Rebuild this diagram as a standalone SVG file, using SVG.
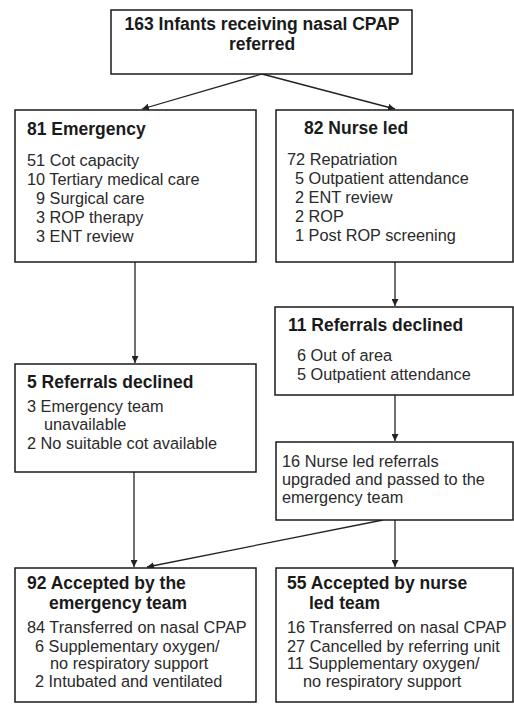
<svg xmlns="http://www.w3.org/2000/svg" width="514" height="712" viewBox="0 0 514 712">
<style>
.box{fill:#fff;stroke:#1a1a1a;stroke-width:1.5}
.h{font-family:"Liberation Sans",Arial,sans-serif;font-weight:bold;font-size:17.5px;fill:#1a1a1a}
.t{font-family:"Liberation Sans",Arial,sans-serif;font-size:16.3px;fill:#2a2a2a}
.c{stroke:#222;stroke-width:1.3;fill:none;marker-end:url(#ah)}
</style>
<defs>
<marker id="ah" viewBox="0 0 10 10" refX="10" refY="5" markerWidth="7" markerHeight="7" orient="auto" markerUnits="userSpaceOnUse">
<path d="M0,0 L10,5 L0,10 z" fill="#222"/>
</marker>
</defs>
<rect width="514" height="712" fill="#fff"/>
<g id="connectors">
<line class="c" x1="262" y1="74" x2="142" y2="109"/>
<line class="c" x1="262" y1="74" x2="395" y2="109"/>
<line class="c" x1="135" y1="262" x2="135" y2="363"/>
<line class="c" x1="395" y1="262" x2="395" y2="306"/>
<line class="c" x1="395" y1="395" x2="395" y2="441"/>
<line class="c" x1="134" y1="472" x2="134" y2="567"/>
<line class="c" x1="383" y1="520" x2="147" y2="567"/>
<line class="c" x1="395" y1="520" x2="395" y2="567"/>
</g>
<g id="n-top">
<rect class="box" x="111" y="10" width="301" height="64"/>
<text class="h" x="262" y="30" text-anchor="middle">163 Infants receiving nasal CPAP</text>
<text class="h" x="262" y="50" text-anchor="middle">referred</text>
</g>
<g id="n-emergency">
<rect class="box" x="15" y="110" width="241" height="152"/>
<text class="h" x="27" y="135">81 Emergency</text>
<text class="t" x="27" y="166">51 Cot capacity</text>
<text class="t" x="27" y="185">10 Tertiary medical care</text>
<text class="t" x="36" y="204">9 Surgical care</text>
<text class="t" x="36" y="223">3 ROP therapy</text>
<text class="t" x="36" y="242">3 ENT review</text>
</g>
<g id="n-nurse">
<rect class="box" x="276" y="110" width="237" height="152"/>
<text class="h" x="304" y="134">82 Nurse led</text>
<text class="t" x="287" y="165">72 Repatriation</text>
<text class="t" x="295" y="184">5 Outpatient attendance</text>
<text class="t" x="295" y="203">2 ENT review</text>
<text class="t" x="295" y="222">2 ROP</text>
<text class="t" x="295" y="241">1 Post ROP screening</text>
</g>
<g id="n-declined5">
<rect class="box" x="15" y="364" width="241" height="108"/>
<text class="h" x="27" y="388">5 Referrals declined</text>
<text class="t" x="27" y="412">3 Emergency team</text>
<text class="t" x="44" y="430">unavailable</text>
<text class="t" x="27" y="449">2 No suitable cot available</text>
</g>
<g id="n-declined11">
<rect class="box" x="275" y="307" width="238" height="88"/>
<text class="h" x="288" y="331">11 Referrals declined</text>
<text class="t" x="297" y="361">6 Out of area</text>
<text class="t" x="297" y="380">5 Outpatient attendance</text>
</g>
<g id="n-upgraded">
<rect class="box" x="276" y="442" width="237" height="78"/>
<text class="t" x="282" y="467">16 Nurse led referrals</text>
<text class="t" x="282" y="485">upgraded and passed to the</text>
<text class="t" x="282" y="503">emergency team</text>
</g>
<g id="n-accepted-emergency">
<rect class="box" x="15" y="568" width="241" height="134"/>
<text class="h" x="27" y="589">92 Accepted by the</text>
<text class="h" x="49" y="609">emergency team</text>
<text class="t" x="27" y="633">84 Transferred on nasal CPAP</text>
<text class="t" x="35" y="652">6 Supplementary oxygen/</text>
<text class="t" x="50" y="669">no respiratory support</text>
<text class="t" x="35" y="687">2 Intubated and ventilated</text>
</g>
<g id="n-accepted-nurse">
<rect class="box" x="276" y="568" width="237" height="134"/>
<text class="h" x="287" y="589">55 Accepted by nurse</text>
<text class="h" x="309" y="609">led team</text>
<text class="t" x="287" y="633">16 Transferred on nasal CPAP</text>
<text class="t" x="287" y="652">27 Cancelled by referring unit</text>
<text class="t" x="287" y="669">11 Supplementary oxygen/</text>
<text class="t" x="303" y="687">no respiratory support</text>
</g>
</svg>
